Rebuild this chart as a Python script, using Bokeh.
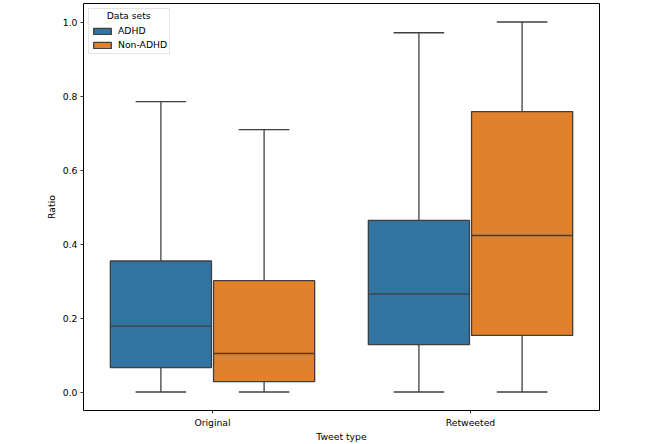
from bokeh.plotting import figure
from bokeh.models import (FactorRange, Range1d, ColumnDataSource, FixedTicker,
                          PrintfTickFormatter, Legend, LegendItem, Label)
from bokeh.transform import dodge
from bokeh.embed import file_html
from bokeh.resources import INLINE

# ---- data -------------------------------------------------------------
tweet_types = ["Original", "Retweeted"]
data_sets = ["ADHD", "Non-ADHD"]
colors = ["#3274a1", "#e1812c"]

adhd_low = [0.0, 0.0]
adhd_q1 = [0.066, 0.128]
adhd_med = [0.178, 0.265]
adhd_q3 = [0.354, 0.464]
adhd_high = [0.785, 0.971]

non_low = [0.0, 0.0]
non_q1 = [0.028, 0.153]
non_med = [0.104, 0.423]
non_q3 = [0.301, 0.758]
non_high = [0.709, 1.0]

y_ticks = [0.0, 0.2, 0.4, 0.6, 0.8, 1.0]
legend_title = "Data sets"

# ---- figure -----------------------------------------------------------
FONT = "DejaVu Sans"
FS = "9.25px"
EDGE = "#3f3f3f"
LW = 1.3

x_range = FactorRange(*tweet_types, range_padding=0)
p = figure(width=666, height=444, x_range=x_range,
           y_range=Range1d(-0.05, 1.05),
           output_backend="svg", toolbar_location=None,
           min_border_left=83, min_border_right=67,
           min_border_top=3, min_border_bottom=30)

p.grid.visible = False
p.outline_line_color = "black"
p.outline_line_width = 1

box_w = 0.392
cap_w = 0.196
offsets = [-0.2, 0.2]
series = [
    (adhd_low, adhd_q1, adhd_med, adhd_q3, adhd_high),
    (non_low, non_q1, non_med, non_q3, non_high),
]

items = []
for name, color, d, (lo, q1, med, q3, hi) in zip(data_sets, colors, offsets, series):
    src = ColumnDataSource(dict(x=tweet_types, lo=lo, q1=q1, med=med, q3=q3, hi=hi))
    xc = dodge("x", d, range=x_range)
    # whisker stems
    p.segment(x0=xc, y0="q3", x1=xc, y1="hi", source=src,
              line_color=EDGE, line_width=LW)
    p.segment(x0=xc, y0="lo", x1=xc, y1="q1", source=src,
              line_color=EDGE, line_width=LW)
    # caps
    p.segment(x0=dodge("x", d - cap_w / 2, range=x_range), y0="hi",
              x1=dodge("x", d + cap_w / 2, range=x_range), y1="hi", source=src,
              line_color=EDGE, line_width=LW)
    p.segment(x0=dodge("x", d - cap_w / 2, range=x_range), y0="lo",
              x1=dodge("x", d + cap_w / 2, range=x_range), y1="lo", source=src,
              line_color=EDGE, line_width=LW)
    # box
    r = p.vbar(x=xc, width=box_w, bottom="q1", top="q3", source=src,
               fill_color=color, line_color=EDGE, line_width=LW)
    # median
    p.segment(x0=dodge("x", d - box_w / 2, range=x_range), y0="med",
              x1=dodge("x", d + box_w / 2, range=x_range), y1="med", source=src,
              line_color=EDGE, line_width=LW)
    items.append(LegendItem(label=name, renderers=[r]))

legend = Legend(items=items, title=" ", location="top_left",
                margin=5, padding=2, spacing=1,
                glyph_width=22, glyph_height=8, label_height=13,
                label_standoff=5,
                label_text_font=FONT, label_text_font_size=FS,
                label_text_color="black",
                title_text_font=FONT, title_text_font_size=FS,
                title_text_font_style="normal", title_standoff=2,
                border_line_color="#cccccc", border_line_width=1,
                background_fill_color=None, background_fill_alpha=0)
p.add_layout(legend)

# centred legend title (as in matplotlib)
p.add_layout(Label(x=0.175, y=1.018, text=legend_title, level="overlay",
                   text_align="center", text_baseline="middle",
                   text_font=FONT, text_font_size=FS, text_color="black",
                   text_alpha=1.0))

# axes
for ax in (p.xaxis[0], p.yaxis[0]):
    ax.axis_line_color = None
    ax.major_tick_in = 0
    ax.major_tick_out = 3
    ax.minor_tick_line_color = None
    ax.major_tick_line_color = "black"
    ax.major_tick_line_width = 0.8
    ax.major_label_text_font = FONT
    ax.major_label_text_font_size = FS
    ax.major_label_text_color = "black"
    ax.axis_label_text_font = FONT
    ax.axis_label_text_font_size = FS
    ax.axis_label_text_font_style = "normal"
    ax.axis_label_text_color = "black"
    ax.major_label_standoff = 3

p.yaxis.ticker = FixedTicker(ticks=y_ticks)
p.yaxis.formatter = PrintfTickFormatter(format="%.1f")
p.yaxis.axis_label = "Ratio"
p.yaxis.axis_label_standoff = 3
p.xaxis.axis_label = "Tweet type"
p.xaxis.axis_label_standoff = 0

open("out.html", "w").write(file_html(p, INLINE))
